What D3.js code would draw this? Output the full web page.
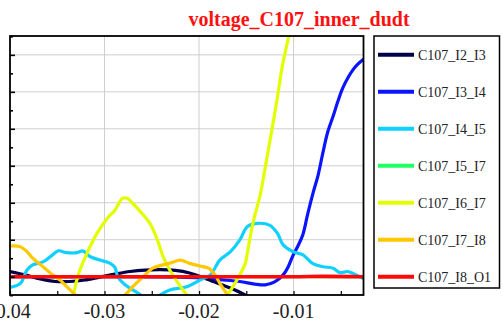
<!DOCTYPE html>
<html>
<head>
<meta charset="utf-8">
<script src="https://cdn.jsdelivr.net/npm/d3@7"></script>
<style>
  html, body { margin: 0; padding: 0; background: #fff; overflow: hidden; }
  svg { display: block; }
</style>
</head>
<body>
<svg id="chart" width="503" height="321"></svg>
<script>
// Series names (legend order) and colours
const seriesNames = ["C107_I2_I3", "C107_I3_I4", "C107_I4_I5", "C107_I5_I7", "C107_I6_I7", "C107_I7_I8", "C107_I8_O1"];
const seriesColors = ["#000048", "#0a14ff", "#10d0ff", "#20ff60", "#e2ff00", "#ffc800", "#ff0a0a"];

// Time axis tick labels
const xTickValues = [-0.04, -0.03, -0.02, -0.01];
const xTickLabels = ["-0.04", "-0.03", "-0.02", "-0.01"];

// Samples per series: [time, value]
const i2i3 = [[-0.0400,0.14],[-0.0384,0.05],[-0.0368,-0.06],[-0.0352,-0.13],[-0.0337,-0.13],[-0.0321,-0.09],[-0.0305,-0.01],[-0.0289,0.07],[-0.0273,0.14],[-0.0257,0.18],[-0.0241,0.19],[-0.0225,0.17],[-0.0210,0.10],[-0.0194,-0.04],[-0.0178,-0.20],[-0.0162,-0.36],[-0.0151,-0.50],[-0.0146,-0.60]];
const i3i4 = [[-0.0400,0.0],[-0.0347,0.0],[-0.0283,0.0],[-0.0220,-0.01],[-0.0199,-0.03],[-0.0178,-0.08],[-0.0157,-0.13],[-0.0141,-0.20],[-0.0130,-0.22],[-0.0120,-0.14],[-0.0111,0.05],[-0.0106,0.25],[-0.0101,0.55],[-0.0095,0.85],[-0.0090,1.15],[-0.0085,1.70],[-0.0079,2.30],[-0.0074,2.75],[-0.0069,3.35],[-0.0064,3.90],[-0.0058,4.35],[-0.0053,4.75],[-0.0048,5.10],[-0.0042,5.40],[-0.0037,5.60],[-0.0032,5.75],[-0.0026,5.88]];
const i4i5 = [[-0.0400,-0.29],[-0.0389,-0.18],[-0.0382,0.18],[-0.0376,0.32],[-0.0365,0.40],[-0.0355,0.59],[-0.0349,0.70],[-0.0340,0.65],[-0.0329,0.65],[-0.0323,0.70],[-0.0315,0.54],[-0.0305,0.45],[-0.0294,0.36],[-0.0289,0.25],[-0.0286,0.0],[-0.0280,-0.18],[-0.0273,-0.31],[-0.0262,-0.49],[-0.0252,-0.70],[-0.0241,-0.49],[-0.0231,-0.36],[-0.0213,-0.27],[-0.0199,-0.09],[-0.0188,0.05],[-0.0178,0.45],[-0.0167,0.67],[-0.0157,0.99],[-0.0149,1.35],[-0.0139,1.44],[-0.0125,1.39],[-0.0117,1.17],[-0.0111,0.86],[-0.0101,0.68],[-0.0090,0.59],[-0.0080,0.36],[-0.0069,0.27],[-0.0058,0.23],[-0.0051,0.11],[-0.0043,0.14],[-0.0037,0.09],[-0.0030,0.0],[-0.0026,-0.05]];
const i5i7 = [[-0.0400,0.0],[-0.0300,0.0],[-0.0200,0.0],[-0.0100,0.0],[-0.0026,0.0]];
const i6i7 = [[-0.0347,-1.0],[-0.0334,-0.55],[-0.0330,-0.15],[-0.0326,0.18],[-0.0317,0.72],[-0.0308,1.17],[-0.0297,1.58],[-0.0289,1.80],[-0.0281,2.12],[-0.0276,2.12],[-0.0270,1.98],[-0.0262,1.76],[-0.0252,1.44],[-0.0244,0.99],[-0.0238,0.54],[-0.0231,0.18],[-0.0222,-0.18],[-0.0213,-0.49],[-0.0199,-0.90],[-0.0183,-0.90],[-0.0170,-0.49],[-0.0162,-0.18],[-0.0151,0.36],[-0.0149,0.63],[-0.0143,1.44],[-0.0135,2.25],[-0.0128,3.24],[-0.0123,3.96],[-0.0117,4.86],[-0.0112,5.68],[-0.0105,6.53],[-0.0101,7.20]];
const i7i8 = [[-0.0400,0.83],[-0.0389,0.81],[-0.0382,0.68],[-0.0376,0.50],[-0.0365,0.27],[-0.0355,0.05],[-0.0347,-0.09],[-0.0340,-0.27],[-0.0331,-0.49],[-0.0315,-0.90],[-0.0294,-0.90],[-0.0278,-0.49],[-0.0270,-0.27],[-0.0259,0.0],[-0.0249,0.23],[-0.0238,0.32],[-0.0229,0.38],[-0.0220,0.45],[-0.0210,0.36],[-0.0199,0.29],[-0.0190,0.23],[-0.0183,0.05],[-0.0178,-0.18],[-0.0170,-0.49],[-0.0162,-0.80]];
const i8o1 = [[-0.0400,0.0],[-0.0300,0.0],[-0.0200,0.0],[-0.0100,0.0],[-0.0070,0.01],[-0.0026,0.0]];

const seriesData = [i2i3, i3i4, i4i5, i5i7, i6i7, i7i8, i8o1];

// Plot area
const plot = { left: 10, top: 36, right: 363.5, bottom: 295 };

const svg = d3.select("#chart");

const x = d3.scaleLinear().domain([-0.04, -0.0026]).range([plot.left, plot.right]);
const y = d3.scaleLinear().domain([-0.495, 6.51]).range([plot.bottom, plot.top]);

// Title
svg.append("text")
  .attr("x", 299).attr("y", 26)
  .attr("text-anchor", "middle")
  .attr("font-family", "'Liberation Serif', 'Times New Roman', serif")
  .attr("font-weight", "bold")
  .attr("font-size", 20)
  .attr("fill", "#ff1010")
  .text("voltage_C107_inner_dudt");

// Grid
const grid = svg.append("g");
grid.selectAll("line.gx").data(xTickValues.slice(1)).join("line")
  .attr("x1", d => x(d)).attr("x2", d => x(d))
  .attr("y1", plot.top).attr("y2", plot.bottom)
  .attr("stroke", "#cfcfcf").attr("stroke-width", 1);
grid.selectAll("line.gy").data(d3.range(0, 7)).join("line")
  .attr("y1", d => y(d)).attr("y2", d => y(d))
  .attr("x1", plot.left).attr("x2", plot.right)
  .attr("stroke", "#cfcfcf").attr("stroke-width", 1);

// Curves, clipped to the plot frame
svg.append("clipPath").attr("id", "plotClip")
  .append("rect")
  .attr("x", plot.left).attr("y", plot.top)
  .attr("width", plot.right - plot.left).attr("height", plot.bottom - plot.top);

const line = d3.line()
  .x(d => x(d[0])).y(d => y(d[1]))
  .curve(d3.curveCatmullRom.alpha(0.5));

const curves = svg.append("g").attr("clip-path", "url(#plotClip)");
const drawOrder = [3, 1, 0, 2, 4, 5, 6];
drawOrder.forEach(i => {
  curves.append("path")
    .attr("d", line(seriesData[i]))
    .attr("fill", "none")
    .attr("stroke", seriesColors[i])
    .attr("stroke-width", i === 6 ? 3.6 : 3.2)
    .attr("stroke-linejoin", "round")
    .attr("stroke-linecap", "round");
});

// Axes with inward ticks
const xAxis = d3.axisBottom(x)
  .tickValues(d3.range(-0.04, -0.0026, 0.005).map(v => +v.toFixed(4)))
  .tickSize(-4)
  .tickFormat("");
svg.append("g").attr("transform", `translate(0,${plot.bottom})`).call(xAxis)
  .call(g => g.select(".domain").remove())
  .selectAll("line").attr("stroke", "#000").attr("stroke-width", 1.2);

svg.append("g")
  .selectAll("text").data(xTickValues).join("text")
  .attr("x", (d) => x(d)).attr("y", 318)
  .attr("text-anchor", "middle")
  .attr("font-family", "'Liberation Serif', 'Times New Roman', serif")
  .attr("font-size", 20)
  .attr("fill", "#222")
  .text((d, i) => xTickLabels[i]);

const yAxis = d3.axisLeft(y)
  .tickValues(d3.range(-0.5, 6.51, 0.5))
  .tickSize(-4)
  .tickFormat("");
const ya = svg.append("g").attr("transform", `translate(${plot.left},0)`).call(yAxis);
ya.select(".domain").remove();
ya.selectAll(".tick line")
  .attr("x2", d => Number.isInteger(d) ? 5 : 3)
  .attr("stroke", "#000").attr("stroke-width", 1.6);

// Frame
svg.append("rect")
  .attr("x", plot.left).attr("y", plot.top)
  .attr("width", plot.right - plot.left).attr("height", plot.bottom - plot.top)
  .attr("fill", "none").attr("stroke", "#000").attr("stroke-width", 1.8);

// Legend
const legend = svg.append("g");
legend.append("rect")
  .attr("x", 374).attr("y", 36).attr("width", 125.5).attr("height", 252)
  .attr("fill", "#fff").attr("stroke", "#000").attr("stroke-width", 1.5);
const entries = legend.selectAll("g.entry").data(seriesNames).join("g")
  .attr("transform", (d, i) => `translate(0,${y(6 - i)})`);
entries.append("line")
  .attr("x1", 378).attr("x2", 414).attr("y1", 0).attr("y2", 0)
  .attr("stroke", (d, i) => seriesColors[i])
  .attr("stroke-width", 4);
entries.append("text")
  .attr("x", 418).attr("y", 5)
  .attr("font-family", "'Liberation Serif', 'Times New Roman', serif")
  .attr("font-size", 14)
  .attr("fill", "#222")
  .text(d => d);
</script>
</body>
</html>
